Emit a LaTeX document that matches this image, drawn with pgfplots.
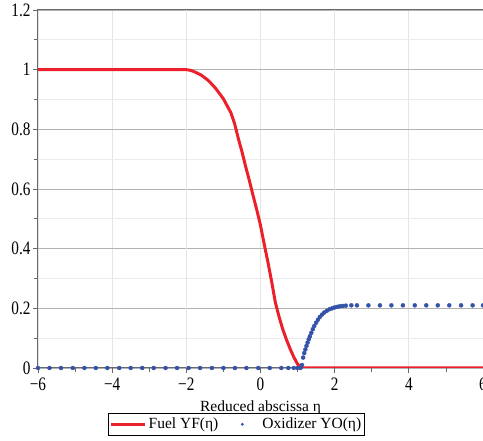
\documentclass[border=0pt]{standalone}
\usepackage{pgfplots}
\pgfplotsset{compat=1.18}
\usepackage{fontspec}
\setmainfont{Liberation Serif}
\newfontfamily\tickfont{Liberation Serif}[FakeStretch=0.8]
\definecolor{fuelred}{RGB}{236,32,42}
\definecolor{oxblue}{RGB}{52,82,168}
\definecolor{axgray}{RGB}{105,105,105}
\pgfplotsset{
  longline/.style={legend image code/.code={\draw[##1] (0pt,0pt) -- (34pt,0pt);}},
  dotleg/.style={legend image code/.code={\path[draw=none,fill=none] (0pt,-1pt) rectangle (30pt,1pt); \fill[oxblue,draw=none] (12pt,0pt) circle (1.6pt);}},
}
\pgfplotstableread{
x y
-6 1
-2 1
-1.9 0.998
-1.8 0.994
-1.6 0.982
-1.4 0.963
-1.2 0.936
-1.0 0.902
-0.8 0.856
-0.7 0.82
-0.6 0.77
-0.5 0.725
-0.4 0.675
-0.3 0.628
-0.2 0.578
-0.1 0.53
0.0 0.478
0.1 0.415
0.2 0.355
0.3 0.29
0.4 0.22
0.5 0.172
0.6 0.13
0.7 0.095
0.8 0.064
0.9 0.036
1.0 0.013
1.1 0
6 0
}\fuel
\pgfplotstableread{
x y
-6 0
-5.69 0
-5.38 0
-5.06 0
-4.75 0
-4.44 0
-4.13 0
-3.81 0
-3.5 0
-3.19 0
-2.88 0
-2.56 0
-2.25 0
-1.94 0
-1.63 0
-1.31 0
-1.0 0
-0.69 0
-0.38 0
-0.06 0
0.25 0
0.56 0
0.75 0
0.9 0
1.0 0
1.08 0
1.12 0.01
1.15 0.035
1.18 0.05
1.21 0.062
1.24 0.074
1.27 0.085
1.30 0.096
1.33 0.106
1.37 0.118
1.41 0.13
1.45 0.141
1.50 0.152
1.55 0.162
1.60 0.171
1.66 0.179
1.72 0.186
1.79 0.192
1.86 0.197
1.93 0.2
2.0 0.203
2.07 0.205
2.14 0.207
2.22 0.208
2.3 0.209
2.45 0.21
2.6 0.21
2.91 0.21
3.22 0.21
3.53 0.21
3.84 0.21
4.16 0.21
4.47 0.21
4.78 0.21
5.09 0.21
5.41 0.21
5.72 0.21
6.0 0.21
}\oxid
\begin{document}
\begin{tikzpicture}
\begin{axis}[
  name=ax,
  scale only axis,
  width=445pt, height=358pt,
  xmin=-6, xmax=6, ymin=0, ymax=1.2,
  xtick={-6,-4,-2,0,2,4,6},
  xticklabels={−6,−4,−2,0,2,4,6},
  ytick={0,0.2,0.4,0.6,0.8,1,1.2},
  yticklabels={0,0.2,0.4,0.6,0.8,1,1.2},
  minor xtick={-5,-3,-1,1,3,5},
  minor ytick={0.1,0.3,0.5,0.7,0.9,1.1},
  tick align=outside,
  xtick pos=bottom, ytick pos=left,
  major tick length=5pt, minor tick length=4pt,
  tick style={axgray, line width=0.8pt},
  axis line style={axgray, line width=1pt},
  xmajorgrids, ymajorgrids, yminorgrids,
  x grid style={gray!20, line width=0.8pt},
  y grid style={gray!60, line width=0.8pt},
  minor y grid style={gray!15, line width=0.8pt},
  extra x ticks={-2,2},
  extra x tick labels={},
  extra x tick style={grid=major, major grid style={gray!60, line width=0.8pt}},
  tick label style={font=\tickfont\fontsize{19}{19}\selectfont, text=black},
  xticklabel style={yshift=-1pt},
  yticklabel style={xshift=1pt},
  xlabel={Reduced abscissa η},
  xlabel style={font=\fontsize{15.5}{15.5}\selectfont, yshift=6pt},
  legend columns=2,
  legend style={at={(0.446,-0.125)}, anchor=north, draw=black, line width=0.8pt,
    font=\fontsize{15.5}{15.5}\selectfont, inner xsep=1pt, inner ysep=3pt,
    /tikz/every even column/.append style={column sep=10pt}},
  legend cell align=left,
]
\addplot[fuelred, line width=3pt, line join=round, longline] table[x=x,y=y]{\fuel};
\addlegendentry{Fuel YF(η)}
\addplot[only marks, mark=*, mark size=2pt, oxblue, dotleg] table[x=x,y=y]{\oxid};
\addlegendentry{Oxidizer YO(η)}
\end{axis}
\pgfresetboundingbox
\path ([xshift=-38pt,yshift=-73pt]ax.south west) rectangle ([yshift=10pt]ax.north east);
\end{tikzpicture}
\end{document}
